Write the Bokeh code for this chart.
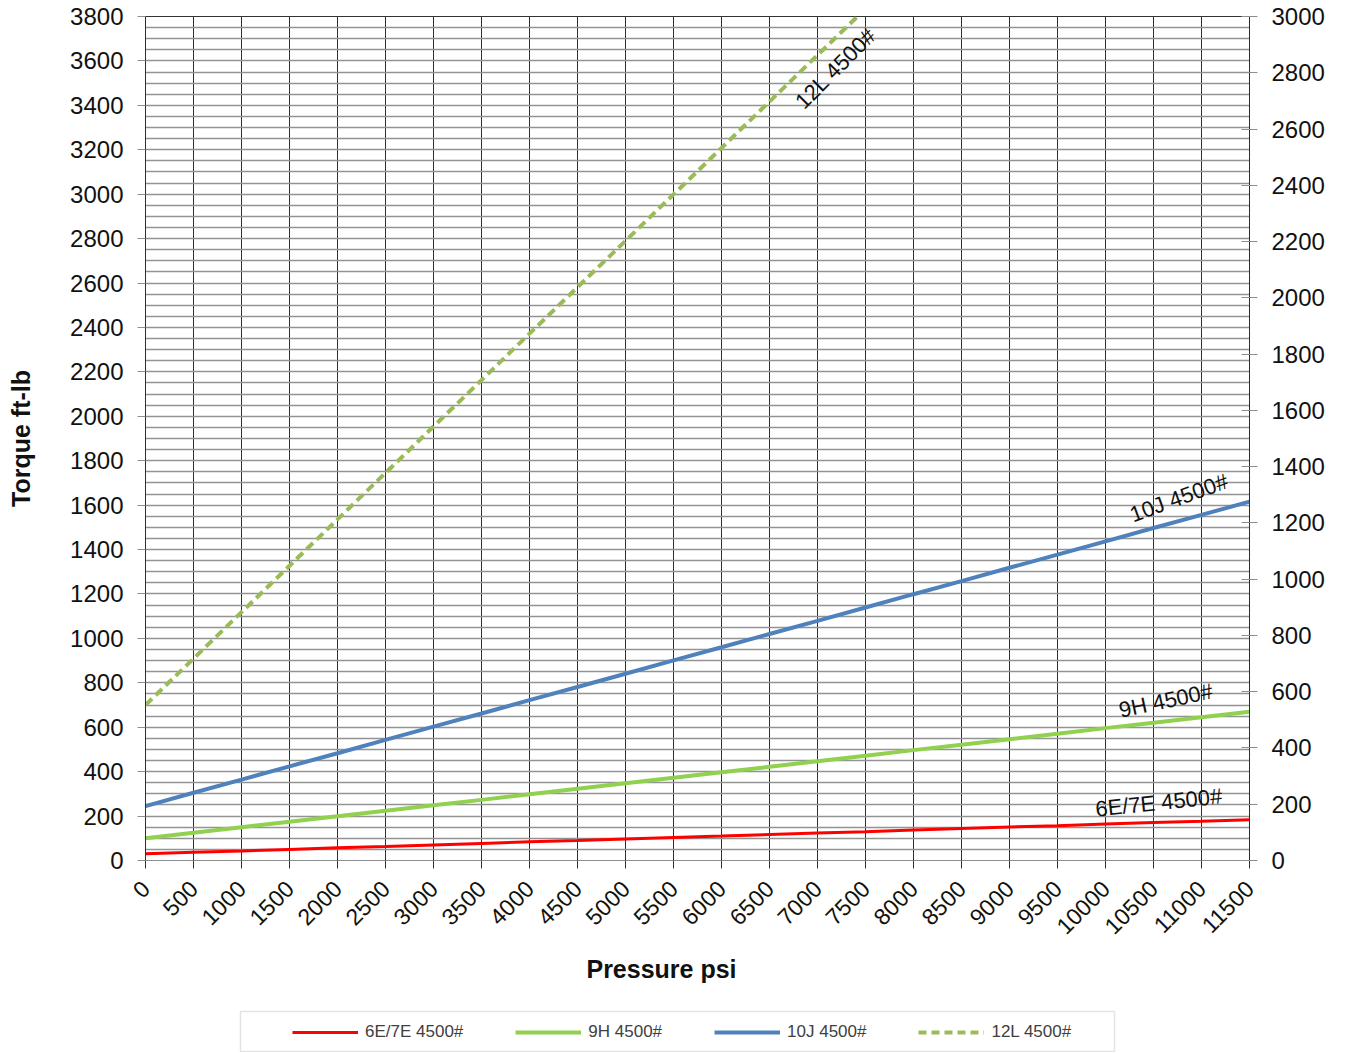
import math
from bokeh.plotting import figure
from bokeh.layouts import column
from bokeh.models import (Range1d, LinearAxis, FixedTicker, Label, Legend, LegendItem,
                          BoxAnnotation)
from bokeh.embed import file_html
from bokeh.resources import INLINE

# ---------------- data ----------------
pressure = [0, 500, 1000, 1500, 2000, 2500, 3000, 3500, 4000, 4500, 5000, 5500,
            6000, 6500, 7000, 7500, 8000, 8500, 9000, 9500, 10000, 10500, 11000, 11500]
torque_6e7e = [30, 37, 43, 50, 57, 63, 70, 77, 84, 90, 97, 104,
               110, 117, 124, 130, 137, 144, 151, 157, 164, 171, 177, 184]
torque_9h = [100, 125, 150, 174, 199, 224, 249, 273, 298, 323, 348, 373,
             397, 422, 447, 472, 497, 521, 546, 571, 596, 620, 645, 670]
torque_10j = [245, 305, 364, 424, 483, 543, 603, 662, 722, 781, 841, 901,
              960, 1020, 1079, 1139, 1199, 1258, 1318, 1377, 1437, 1497, 1556, 1616]
pressure_12l = [0, 500, 1000, 1500, 2000, 2500, 3000, 3500, 4000, 4500, 5000, 5500,
                6000, 6500, 7000, 7500]
torque_12l = [700, 909, 1118, 1327, 1536, 1745, 1954, 2163, 2372, 2581, 2790, 2999,
              3208, 3417, 3626, 3835]

series_names = ["6E/7E 4500#", "9H 4500#", "10J 4500#", "12L 4500#"]
series_colors = ["#ff0000", "#92d050", "#4f81bd", "#9bbb59"]
series_widths = [3, 4, 4, 4]
x_ticks = list(range(0, 11501, 500))
left_ticks = list(range(0, 3801, 200))
right_ticks = list(range(0, 3001, 200))
grid_y = list(range(0, 3801, 50))

FONT = "Liberation Sans"
W = 1338
LEFT, RIGHT = 145, 89          # borders around the plotting frame (px)

p = figure(width=W, height=950, output_backend="svg", toolbar_location=None,
           x_range=Range1d(0, 11500), y_range=Range1d(0, 3800),
           min_border_left=LEFT, min_border_right=RIGHT, min_border_top=16,
           min_border_bottom=90)
p.background_fill_color = "white"
p.border_fill_color = "white"
p.outline_line_color = "#333333"
p.outline_line_width = 1

# grids
p.xgrid.ticker = FixedTicker(ticks=x_ticks)
p.xgrid.grid_line_color = "#2e2e2e"
p.xgrid.grid_line_width = 1
p.ygrid.ticker = FixedTicker(ticks=grid_y)
p.ygrid.grid_line_color = "#939393"
p.ygrid.grid_line_width = 1.3

# axes
xa = p.xaxis[0]
xa.ticker = FixedTicker(ticks=x_ticks)
xa.major_label_orientation = math.pi / 4
xa.major_label_text_font = FONT
xa.major_label_text_font_size = "23px"
xa.major_label_text_color = "#111111"
xa.major_tick_out = 8
xa.major_tick_in = 0
xa.major_tick_line_color = "#333333"
xa.minor_tick_line_color = None
xa.axis_line_color = "#8e8e8e"
xa.major_label_standoff = 16

ya = p.yaxis[0]
ya.ticker = FixedTicker(ticks=left_ticks)
ya.major_label_text_font = FONT
ya.major_label_text_font_size = "24px"
ya.major_label_text_color = "#111111"
ya.major_tick_out = 8
ya.major_tick_in = 0
ya.major_tick_line_color = "#8e8e8e"
ya.minor_tick_line_color = None
ya.axis_line_color = "#2e2e2e"
ya.major_label_standoff = 14
ya.axis_label = "Torque ft-lb"
ya.axis_label_text_font = FONT
ya.axis_label_text_font_style = "bold"
ya.axis_label_text_font_size = "25px"
ya.axis_label_text_color = "#111111"
ya.axis_label_standoff = 32

p.extra_y_ranges = {"right": Range1d(0, 3000)}
ra = LinearAxis(y_range_name="right", ticker=FixedTicker(ticks=right_ticks))
ra.major_label_text_font = FONT
ra.major_label_text_font_size = "24px"
ra.major_label_text_color = "#111111"
ra.major_tick_out = 8
ra.major_tick_in = 8
ra.major_tick_line_color = "#8e8e8e"
ra.minor_tick_line_color = None
ra.axis_line_color = "#2e2e2e"
ra.major_label_standoff = 14
p.add_layout(ra, "right")

# series
r1 = p.line(pressure, torque_6e7e, line_color=series_colors[0], line_width=series_widths[0])
r2 = p.line(pressure, torque_9h, line_color=series_colors[1], line_width=series_widths[1])
r3 = p.line(pressure, torque_10j, line_color=series_colors[2], line_width=series_widths[2])
r4 = p.line(pressure_12l, torque_12l, line_color=series_colors[3],
            line_width=series_widths[3], line_dash="9 5")

# in-plot series labels
for txt, x, y, ang in [("12L 4500#", 7190, 3567, 45),
                       ("10J 4500#", 10764, 1633, 20),
                       ("9H 4500#", 10628, 720, 12),
                       ("6E/7E 4500#", 10555, 261, 6)]:
    p.add_layout(Label(x=x, y=y, text=txt, angle=math.radians(ang),
                       text_align="center", text_baseline="middle",
                       text_font=FONT, text_font_size="22px",
                       text_color="#111111"))

# ---------------- footer: x-axis title and legend ----------------
# (its frame is aligned with the main frame by the column layout,
#  so x here is measured in page pixels)
FH = 102
foot = figure(width=W, height=FH, output_backend="svg", toolbar_location=None,
              x_range=Range1d(LEFT, W - RIGHT), y_range=Range1d(FH, 0),
              x_axis_location=None, y_axis_location=None,
              min_border_left=LEFT, min_border_right=RIGHT, min_border_top=0,
              min_border_bottom=0)
foot.grid.visible = False
foot.outline_line_color = None
foot.background_fill_color = "white"
foot.border_fill_color = "white"

foot.add_layout(Label(x=661, y=18, text="Pressure psi", text_align="center",
                      text_baseline="middle", text_font=FONT, text_font_style="bold",
                      text_font_size="25px", text_color="#111111"))

dummies = []
for i in range(4):
    kw = dict(line_color=series_colors[i], line_width=series_widths[i])
    if i == 3:
        kw["line_dash"] = "8 5"
    dummies.append(foot.line(x=[pressure[0]], y=[float("nan")], **kw))

legend = Legend(items=[LegendItem(label=series_names[i], renderers=[dummies[i]], index=0)
                       for i in range(4)],
                orientation="horizontal", location=(292 - LEFT, 10),
                border_line_color=None, background_fill_alpha=0,
                glyph_width=66, glyph_height=20, label_height=20,
                label_standoff=7, spacing=52, padding=10, margin=0,
                label_text_font=FONT, label_text_font_size="17px",
                label_text_color="#404040")
foot.add_layout(legend, "center")
foot.add_layout(BoxAnnotation(left=240, right=1114, top=61, bottom=101,
                              fill_color=None, line_color="#a6a6a6", line_width=1.5))

layout = column(p, foot, spacing=0)
open("out.html", "w").write(file_html(layout, INLINE))
